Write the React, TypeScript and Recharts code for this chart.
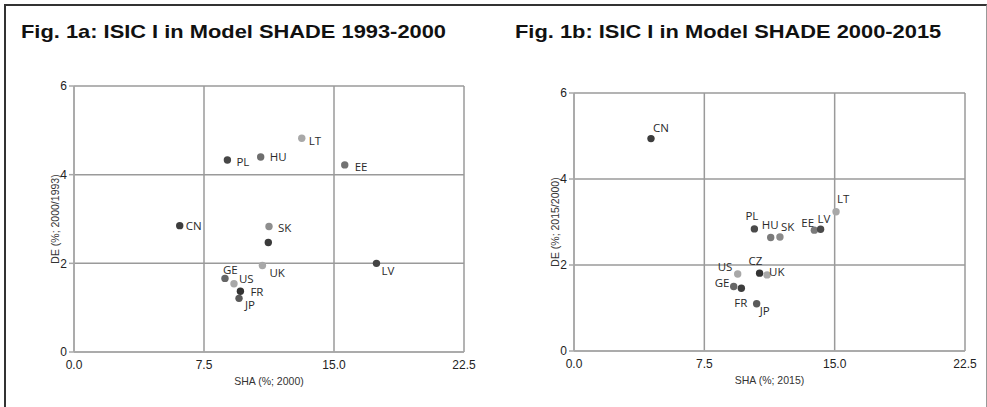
import { CartesianGrid, Scatter, ScatterChart, XAxis, YAxis } from 'recharts'

// Fig. 1a: 1993-2000
const countries93 = ['CN', 'PL', 'HU', 'LT', 'EE', 'SK', 'CZ', 'UK', 'LV', 'GE', 'US', 'FR', 'JP']
const sha2000 = [6.1, 8.85, 10.77, 13.14, 15.62, 11.25, 11.21, 10.87, 17.45, 8.71, 9.23, 9.6, 9.52]
const de93 = [2.85, 4.33, 4.4, 4.82, 4.22, 2.83, 2.47, 1.95, 2.0, 1.66, 1.54, 1.37, 1.21]

// Fig. 1b: 2000-2015
const countries15 = ['CN', 'PL', 'HU', 'SK', 'EE', 'LV', 'LT', 'US', 'CZ', 'UK', 'GE', 'FR', 'JP']
const sha2015 = [4.43, 10.38, 11.32, 11.85, 13.83, 14.19, 15.08, 9.42, 10.68, 11.11, 9.19, 9.63, 10.51]
const de15 = [4.94, 2.84, 2.64, 2.65, 2.81, 2.83, 3.24, 1.79, 1.81, 1.77, 1.5, 1.46, 1.1]

const xTicks = [0, 7.5, 15, 22.5]
const yTicks = [0, 2, 4, 6]

type Point = { country: string; sha: number; de: number }

const toPoints = (c: string[], x: number[], y: number[]): Point[] =>
  c.map((k, i) => ({ country: k, sha: x[i], de: y[i] }))

// dot shades and label placement (dx to text start, dy to text middle)
const colorsA: Record<string, string> = {
  CN: '#3d3d3d', PL: '#474747', HU: '#6e6e6e', LT: '#a8a8a8', EE: '#727272', SK: '#8e8e8e',
  CZ: '#3a3a3a', UK: '#a8a8a8', LV: '#444444', GE: '#666666', US: '#a8a8a8', FR: '#333333', JP: '#5a5a5a',
}
const labelsA: Record<string, [number, number] | null> = {
  CN: [6, 0], PL: [9, 1], HU: [9, 0], LT: [7, 2], EE: [10, 2], SK: [9, 1], CZ: null,
  UK: [7, 7], LV: [5, 7], GE: [-2, -9], US: [5, -5], FR: [10, 0], JP: [6, 6],
}
const colorsB: Record<string, string> = {
  CN: '#3d3d3d', PL: '#4a4a4a', HU: '#7a7a7a', SK: '#8a8a8a', EE: '#7a7a7a', LV: '#4a4a4a', LT: '#a8a8a8',
  US: '#a8a8a8', CZ: '#333333', UK: '#a8a8a8', GE: '#666666', FR: '#3d3d3d', JP: '#5a5a5a',
}
const labelsB: Record<string, [number, number] | null> = {
  CN: [2, -11], PL: [-9, -13], HU: [-9, -13], SK: [1, -11], EE: [-13, -8], LV: [-3, -11], LT: [1, -13],
  US: [-20, -8], CZ: [-11, -13], UK: [2, -3], GE: [-19, -4], FR: [-7, 14], JP: [3, 7],
}

const narrow = "'Liberation Sans Narrow', 'Liberation Sans', Arial"
const tickFont = { fontSize: 12, fontFamily: narrow, fill: '#222' }

function makeDot(colors: Record<string, string>, labels: Record<string, [number, number] | null>) {
  return (props: any) => {
    const { cx, cy, payload } = props
    const off = labels[payload.country]
    return (
      <g>
        <circle cx={cx} cy={cy} r={3.7} fill={colors[payload.country]} />
        {off && (
          <text
            x={cx + off[0]}
            y={cy + off[1]}
            dominantBaseline="central"
            fontSize={11.5}
            fontFamily="'Open Sans', sans-serif"
            fill="#2a2a2a"
          >
            {payload.country}
          </text>
        )}
      </g>
    )
  }
}

type PanelProps = {
  left: number
  points: Point[]
  margin: { top: number; right: number; bottom: number; left: number }
  xTitle: string
  yTitle: string
  yTitleOffset: number
  colors: Record<string, string>
  labels: Record<string, [number, number] | null>
}

function Panel({ left, points, margin, xTitle, yTitle, yTitleOffset, colors, labels }: PanelProps) {
  return (
    <div style={{ position: 'absolute', left, top: 0 }}>
      <ScatterChart width={493} height={407} margin={margin}>
        <CartesianGrid stroke="#9a9a9a" strokeWidth={1.5} />
        <XAxis
          type="number"
          dataKey="sha"
          domain={[0, 22.5]}
          ticks={xTicks}
          interval={0}
          tickFormatter={(v: number) => v.toFixed(1)}
          tick={tickFont}
          tickLine={false}
          axisLine={{ stroke: '#a8a8a8', strokeWidth: 1.5 }}
          height={30}
          label={{
            value: xTitle,
            position: 'bottom',
            offset: -4,
            style: { fontSize: 10.5, fontFamily: narrow, fill: '#333' },
          }}
        />
        <YAxis
          type="number"
          dataKey="de"
          domain={[0, 6]}
          ticks={yTicks}
          interval={0}
          width={30}
          tickSize={5}
          tick={tickFont}
          tickLine={{ stroke: '#a8a8a8', strokeWidth: 1.5 }}
          axisLine={{ stroke: '#a8a8a8', strokeWidth: 1.5 }}
          label={{
            value: yTitle,
            angle: -90,
            position: 'insideLeft',
            offset: yTitleOffset,
            style: { textAnchor: 'middle', fontSize: 10.5, fontFamily: narrow, fill: '#333' },
          }}
        />
        <Scatter data={points} shape={makeDot(colors, labels)} isAnimationActive={false} />
      </ScatterChart>
    </div>
  )
}

const titleStyle = {
  position: 'absolute' as const,
  top: 22,
  fontFamily: "'Liberation Sans', Arial, sans-serif",
  fontWeight: 700,
  fontSize: 19,
  lineHeight: '19px',
  color: '#111',
  whiteSpace: 'nowrap' as const,
  transform: 'scaleX(1.15)',
  transformOrigin: 'left center',
}

export default function App() {
  return (
    <div style={{ position: 'relative', width: 987, height: 407, background: '#fff', overflow: 'hidden' }}>
      <style>{'body{margin:0}'}</style>
      <div
        style={{
          position: 'absolute',
          left: 4,
          top: 4,
          width: 980,
          height: 420,
          borderTop: '2px solid #333',
          borderLeft: '2px solid #333',
          borderRight: '1px solid #999',
        }}
      />
      <div style={{ ...titleStyle, left: 21 }}>Fig. 1a: ISIC I in Model SHADE 1993-2000</div>
      <div style={{ ...titleStyle, left: 515 }}>Fig. 1b: ISIC I in Model SHADE 2000-2015</div>
      <Panel
        left={0}
        points={toPoints(countries93, sha2000, de93)}
        margin={{ top: 86, right: 29, bottom: 25, left: 44 }}
        xTitle="SHA (%; 2000)"
        yTitle="DE (%; 2000/1993)"
        yTitleOffset={11}
        colors={colorsA}
        labels={labelsA}
      />
      <Panel
        left={494}
        points={toPoints(countries15, sha2015, de15)}
        margin={{ top: 93, right: 22, bottom: 26, left: 50 }}
        xTitle="SHA (%; 2015)"
        yTitle="DE (%; 2015/2000)"
        yTitleOffset={11}
        colors={colorsB}
        labels={labelsB}
      />
    </div>
  )
}
